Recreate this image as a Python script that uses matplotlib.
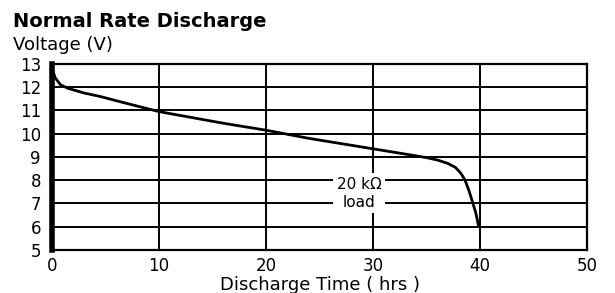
import numpy as np
import matplotlib.pyplot as plt

plt.rcParams['font.family'] = ['DejaVu Sans']

# Discharge curve
hours = [0, 0.3, 0.8, 1.5, 3, 4.5, 7, 10, 13, 16, 20, 24, 28, 30, 32, 34, 35, 36, 37, 37.7, 38.2, 38.6, 39.0, 39.3, 39.6, 39.85]
volts = [12.8, 12.4, 12.1, 11.95, 11.75, 11.6, 11.3, 10.95, 10.7, 10.45, 10.15, 9.8, 9.5, 9.35, 9.2, 9.05, 8.97, 8.87, 8.72, 8.55, 8.3, 8.0, 7.5, 7.05, 6.6, 6.05]

x_ticks = [0, 10, 20, 30, 40, 50]
y_ticks = [5, 6, 7, 8, 9, 10, 11, 12, 13]

fig = plt.figure(figsize=(6.15, 2.93), dpi=100)
ax = fig.add_axes([0.0846, 0.1468, 0.87, 0.635])

ax.plot(hours, volts, color='black', lw=2.0, zorder=3)

ax.set_xlim(0, 50)
ax.set_ylim(5, 13)
ax.set_xticks(x_ticks)
ax.set_yticks(y_ticks)
ax.grid(True, color='black', lw=1.4, zorder=1)
ax.set_axisbelow(True)
ax.tick_params(axis='y', length=0, labelsize=12, pad=8)
ax.tick_params(axis='x', length=0, labelsize=12, pad=5)
for s in ax.spines.values():
    s.set_linewidth(1.6)
ax.spines['left'].set_linewidth(4)

ax.text(28.7, 7.45, '20 kΩ\nload', ha='center', va='center', fontsize=11,
        linespacing=1.25, zorder=4,
        bbox=dict(facecolor='white', edgecolor='none', pad=2.5))

ax.set_xlabel('Discharge Time ( hrs )', fontsize=13, labelpad=1)
fig.text(0.021, 0.925, 'Normal Rate Discharge', fontsize=14, fontweight='bold', ha='left', va='center')
fig.text(0.021, 0.846, 'Voltage (V)', fontsize=13, ha='left', va='center')

fig.savefig('out.png', dpi=100)
